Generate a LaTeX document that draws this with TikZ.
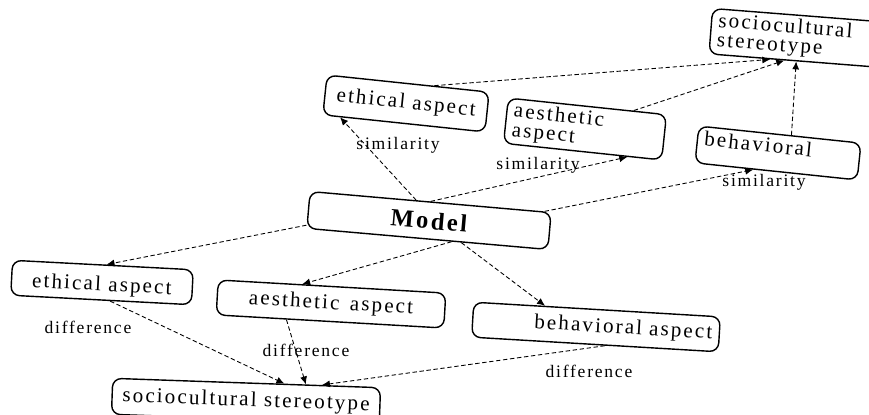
\documentclass[tikz,border=0pt]{standalone}
\usepackage{fontspec}
\setmainfont{Liberation Serif}[LetterSpace=10]
\usetikzlibrary{arrows.meta,calc}

\begin{document}
\begin{tikzpicture}[x=0.02cm, y=-0.02cm,
  aspect/.style={draw, rounded corners=5pt, line width=0.8pt, inner xsep=4pt, inner ysep=2pt, font=\fontsize{12}{11}\selectfont},
  link/.style={-{Latex[length=4.5pt,width=4pt]}, dash pattern=on 2.5pt off 1.5pt, line width=0.5pt},
  lbl/.style={font=\fontsize{10}{11}\selectfont, inner sep=0pt}]
\useasboundingbox (0,0) rectangle (869,415);

\node[aspect, rotate=-4.5, align=left, text width=3.7cm, minimum height=0.76cm] (socioTop) at (810,39) {sociocultural\\stereotype};
\node[aspect, rotate=-6, minimum width=3.26cm, minimum height=0.8cm] (ethTop) at (406,103.5) {ethical aspect};
\node[aspect, rotate=-6, align=left, text width=2.9cm, minimum height=0.88cm] (aesTop) at (585,129) {aesthetic\\aspect};
\node[aspect, rotate=-6, align=left, text width=2.98cm, text depth=8pt, minimum height=0.74cm] (behTop) at (778,153) {behavioral};
\node[aspect, rotate=-5, minimum width=4.84cm, minimum height=0.74cm, font=\fontsize{14}{15}\bfseries] (model) at (429,220.5) {Model};
\node[aspect, rotate=-3, minimum width=3.62cm, minimum height=0.7cm, text height=12pt] (ethBot) at (102,282.5) {ethical aspect};
\node[aspect, rotate=-3.3, minimum width=4.56cm, minimum height=0.7cm] (aesBot) at (331,304) {aesthetic\enspace aspect};
\node[aspect, rotate=-3.4, align=right, text width=4.66cm, minimum height=0.7cm] (behBot) at (596,327) {behavioral aspect};
\node[aspect, rotate=-2, minimum width=5.36cm, minimum height=0.72cm] (socioBot) at (246,401) {sociocultural stereotype};

\node[lbl] (sim1) at (398,145) {similarity};
\node[lbl] (sim2) at (538,165) {similarity};
\node[lbl] (sim3) at (764,182) {similarity};
\node[lbl] (dif1) at (88,327) {difference};
\node[lbl] (dif2) at (306,350) {difference};
\node[lbl] (dif3) at (589,371) {difference};

\draw[link] ($(model.north west)!0.44!(model.north east)$) -- ($(ethTop.south west)!0.11!(ethTop.south east)$);
\draw[link] ($(model.north west)!0.5!(model.north east)$) -- ($(aesTop.south west)!0.78!(aesTop.south east)$);
\draw[link] ($(model.north west)!0.97!(model.north east)$) -- ($(behTop.south west)!0.36!(behTop.south east)$);
\draw[link] ($(ethTop.north west)!0.66!(ethTop.north east)$) -- ($(socioTop.south west)!0.31!(socioTop.south east)$);
\draw[link] ($(aesTop.north west)!0.79!(aesTop.north east)$) -- ($(socioTop.south west)!0.38!(socioTop.south east)$);
\draw[link] ($(behTop.north west)!0.57!(behTop.north east)$) -- ($(socioTop.south west)!0.44!(socioTop.south east)$);
\draw[link] ($(model.south west)!0.1!(model.north west)$) -- ($(ethBot.north west)!0.52!(ethBot.north east)$);
\draw[link] ($(model.south west)!0.6!(model.south east)$) -- ($(aesBot.north west)!0.37!(aesBot.north east)$);
\draw[link] ($(model.south west)!0.64!(model.south east)$) -- ($(behBot.north west)!0.29!(behBot.north east)$);
\draw[link] ($(ethBot.south west)!0.55!(ethBot.south east)$) -- ($(socioBot.north west)!0.64!(socioBot.north east)$);
\draw[link] ($(aesBot.south west)!0.31!(aesBot.south east)$) -- ($(socioBot.north west)!0.72!(socioBot.north east)$);
\draw[link] ($(behBot.south west)!0.54!(behBot.south east)$) -- ($(socioBot.north west)!0.78!(socioBot.north east)$);
\end{tikzpicture}
\end{document}
